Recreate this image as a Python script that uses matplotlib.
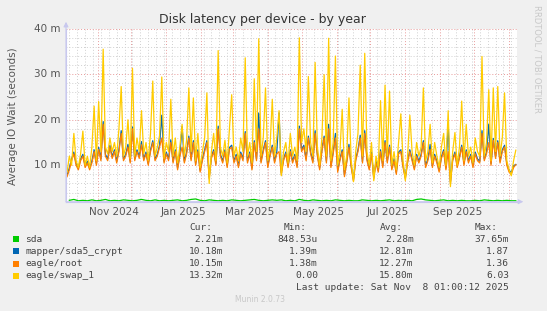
import matplotlib
matplotlib.use("Agg")
import matplotlib.pyplot as plt
import matplotlib.dates as mdates
import matplotlib.ticker as mticker
from matplotlib.patches import Rectangle
import pandas as pd

# daily-ish averages, values in milliseconds
swap_1 = [8.5, 12, 10, 17, 11, 9.5, 12.5, 17.5, 10, 12,
          9.5, 14, 23, 11, 24, 13, 35.5, 14, 12.5, 16,
          13, 15, 12, 18, 27.3, 12, 14, 20, 11.5, 31.3,
          12, 16, 13, 22, 12.5, 15, 11, 17, 28.5, 12,
          14, 16.5, 29.4, 11.5, 15, 13, 24.5, 12, 16, 10.5,
          14, 19, 12, 15.5, 27, 13, 24.8, 11, 17, 9.5,
          13, 16, 25.9, 6, 13, 17, 11, 35.2, 14, 12,
          15.5, 10.5, 18, 25.5, 12, 14, 11, 16, 13, 33.6,
          12, 15, 10.5, 29, 13, 37.8, 12, 16, 27, 11,
          14, 24.5, 12, 16, 22, 7.7, 13, 15, 10.5, 17,
          12, 14, 11, 38, 15, 18, 13, 29.5, 15, 12,
          32.6, 14, 10, 16, 29.9, 12, 37.9, 11, 15, 34,
          10, 13, 22.3, 9, 12, 24.8, 11, 6.4, 13, 17,
          32, 12, 34.6, 13, 10, 15, 6.6, 12, 9.5, 24.2,
          11, 27.6, 12, 26.3, 10, 13, 9, 15, 21.3, 11,
          6.6, 12, 21, 13, 10, 15, 12, 14, 27, 11,
          13, 19, 10.5, 15, 12, 9.5, 14, 17, 10, 22,
          5.3, 13, 17.2, 10, 14, 24.1, 11, 19, 12, 14,
          10.5, 16, 13, 12, 33.9, 12, 15, 26.6, 11, 27,
          13, 27.3, 12, 16, 25.9, 11, 9, 7.7, 11, 13.32]

root = [7.5, 9, 11, 12.5, 10, 9, 11, 12, 9.5, 10.5,
        9, 10.5, 13, 10, 13.5, 11, 19, 12, 11, 14,
        11.5, 13, 10.5, 13, 17, 11, 12, 14, 10.5, 18,
        11, 13, 11.5, 14.5, 11, 12.5, 10, 13, 15, 11,
        12, 14, 16, 10.5, 12.5, 11, 15, 10.5, 13, 9,
        12, 14, 10.5, 12.5, 16, 11, 15, 10, 13, 8.5,
        11, 13, 15, 7, 11.5, 13, 10, 18, 12, 10.5,
        13, 9.5, 13.5, 14, 10.5, 12, 9.5, 12.5, 11, 17,
        10.5, 12.5, 9, 15, 11, 18, 10.5, 13, 15, 9.5,
        12, 14, 10.5, 12.5, 13, 8, 11, 12.5, 9.5, 13,
        10.5, 12, 9.5, 18, 13, 14, 11, 16, 12.5, 10.5,
        17, 12, 9, 13, 16, 10.5, 18, 9.5, 12.5, 16,
        8.5, 11, 13, 7.5, 10.5, 14, 9.5, 6.5, 11, 13,
        16, 10.5, 17, 11, 9, 12.5, 7, 10.5, 8.5, 13,
        9.5, 15, 10.5, 14, 9, 11, 8, 12.5, 13, 9.5,
        7, 10.5, 13, 11, 9, 12, 10.5, 12, 15, 9.5,
        11, 13.5, 9.5, 12, 10.5, 8.5, 11.5, 13, 9, 13,
        6, 11, 12.5, 9.5, 11.5, 14, 10, 13, 10.5, 12,
        9.5, 12.5, 11, 10.5, 17, 11, 12.5, 15, 10, 15.5,
        11.5, 15, 10.5, 13, 14, 10, 8.5, 8, 9.5, 10.15]

sda5_crypt = [7.9, 9.4, 11.4, 12.9, 10.4, 9.4, 11.4, 12.4, 9.9, 10.9,
              9.4, 10.9, 13.4, 10.4, 13.9, 11.4, 19.6, 12.4, 11.4, 14.4,
              11.9, 13.4, 10.9, 13.4, 17.6, 11.4, 12.4, 14.6, 10.9, 18.4,
              11.4, 13.4, 11.9, 15.2, 11.4, 12.9, 10.4, 13.4, 15.4, 11.4,
              12.4, 14.4, 21, 10.9, 12.9, 11.4, 15.6, 10.9, 13.4, 9.4,
              12.4, 18.5, 10.9, 12.9, 16.4, 11.4, 15.4, 10.4, 13.4, 8.9,
              11.4, 13.4, 15.4, 7.4, 11.9, 13.4, 10.4, 18.6, 12.4, 10.9,
              13.4, 9.9, 13.9, 14.4, 10.9, 12.4, 9.9, 12.9, 11.4, 17.4,
              10.9, 12.9, 9.4, 15.4, 11.4, 21.5, 10.9, 13.4, 15.4, 9.9,
              12.4, 14.4, 10.9, 12.9, 21.5, 8.4, 11.4, 12.9, 9.9, 13.4,
              10.9, 12.4, 9.9, 18.6, 13.4, 14.4, 11.4, 16.4, 12.9, 10.9,
              17.6, 12.4, 9.4, 13.4, 16.4, 10.9, 19, 9.9, 12.9, 17,
              8.9, 11.4, 13.4, 7.9, 10.9, 14.6, 9.9, 6.9, 11.4, 13.4,
              16.6, 10.9, 17.6, 11.4, 9.4, 12.9, 7.4, 10.9, 8.9, 13.4,
              9.9, 15.4, 10.9, 14.4, 9.4, 11.4, 8.4, 12.9, 13.4, 9.9,
              7.4, 10.9, 13.4, 11.4, 9.4, 12.4, 10.9, 12.4, 15.4, 9.9,
              11.4, 14.6, 9.9, 12.4, 10.9, 8.9, 11.9, 13.4, 9.4, 19,
              6.4, 11.4, 12.9, 9.9, 11.9, 14.4, 10.4, 13.4, 10.9, 12.4,
              9.9, 12.9, 11.4, 10.9, 17.6, 11.4, 12.9, 19, 10.4, 15.9,
              11.9, 15.4, 10.9, 13.4, 14.4, 10.4, 8.9, 8.4, 9.9, 10.18]

sda = [2.3, 2.5, 2.2, 2.3, 2.2, 2.4, 2.2, 2.3, 2.5, 2.2,
       2.3, 2.2, 2.4, 2.3, 2.2, 2.3, 2.5, 2.3, 2.2, 2.4,
       2.2, 2.3, 2.2, 2.3, 2.4, 2.2, 2.3, 2.5, 2.6, 2.3,
       2.2, 2.4, 2.3, 2.2, 2.3, 2.2, 2.4, 2.3, 2.2, 2.3,
       2.4, 2.5, 2.3, 2.2, 2.3, 2.4, 2.3, 2.4, 2.2, 2.3,
       2.2, 2.5, 2.3, 2.2, 2.4, 2.3, 2.2, 2.3, 2.2, 2.4,
       2.3, 2.2, 2.3, 2.2, 2.2, 2.4, 2.3, 2.2, 2.3, 2.2,
       2.3, 2.4, 2.2, 2.3, 2.2, 2.3, 2.2, 2.5, 2.6, 2.4,
       2.3, 2.2, 2.3, 2.4, 2.2, 2.3, 2.2, 2.3, 2.2, 2.2,
       2.3, 2.2, 2.4, 2.3, 2.2, 2.3, 2.2, 2.3, 2.2, 2.21]

labels = ["sda", "mapper/sda5_crypt", "eagle/root", "eagle/swap_1"]
colors = ["#00cc00", "#0066b3", "#ff8000", "#ffcc00"]
cur = ["2.21m", "10.18m", "10.15m", "13.32m"]
mins = ["848.53u", "1.39m", "1.38m", "0.00"]
avgs = ["2.28m", "12.81m", "12.27m", "15.80m"]
maxs = ["37.65m", "1.87", "1.36", "6.03"]

days = pd.date_range(end="2025-11-07", periods=len(swap_1), freq="2D")
days_sda = pd.date_range(end="2025-11-07", periods=len(sda), freq="4D")
x0 = pd.Timestamp("2024-10-04 01:00")
x1 = pd.Timestamp("2025-11-08 01:00")

W, H = 547, 311
fig = plt.figure(figsize=(W / 100, H / 100), dpi=100, facecolor="#f0f0f0")
ax = fig.add_axes([66 / W, 1 - 201.7 / H, 451 / W, 173 / H], facecolor="white")

series = [sda, sda5_crypt, root, swap_1]
for vals, c in zip(series, colors):
    xs = days_sda if vals is sda else days
    ax.plot(xs, vals, color=c, lw=0.9)

ax.set_xlim(x0, x1)
ax.set_ylim(2, 40)

# grid like rrdtool
ax.yaxis.set_major_locator(mticker.MultipleLocator(10))
ax.yaxis.set_minor_locator(mticker.MultipleLocator(2))
ax.xaxis.set_major_locator(mdates.MonthLocator())
ax.xaxis.set_minor_locator(mdates.WeekdayLocator(byweekday=mdates.MO))
ax.grid(which="minor", color="#d0d0d0", ls=(0, (1, 2)), lw=0.7)
ax.grid(which="major", color="#e89a9a", ls=(0, (1, 2)), lw=0.7)
ax.set_axisbelow(True)
ax.tick_params(which="both", length=0, labelbottom=False, labelleft=False)

for s in ["top", "right"]:
    ax.spines[s].set_visible(False)
for s in ["left", "bottom"]:
    ax.spines[s].set_color("#c8c8ee")
    ax.spines[s].set_linewidth(0.8)
ax.annotate("", xy=(0, 1.04), xytext=(0, 0), xycoords="axes fraction",
            arrowprops=dict(arrowstyle="-|>", color="#c8c8ee", lw=0.8,
                            mutation_scale=7, shrinkA=0, shrinkB=0))
ax.annotate("", xy=(1.014, 0), xytext=(0, 0), xycoords="axes fraction",
            arrowprops=dict(arrowstyle="-|>", color="#c8c8ee", lw=0.8,
                            mutation_scale=7, shrinkA=0, shrinkB=0))

# y tick labels
for v in [10, 20, 30, 40]:
    ax.text(-0.012, v, "%d m" % v, transform=ax.get_yaxis_transform(),
            ha="right", va="center", fontsize=7.5, color="#555555")

# x labels sit in the middle of the month
for d, t in [("2024-11-16", "Nov 2024"), ("2025-01-16", "Jan 2025"),
             ("2025-03-16", "Mar 2025"), ("2025-05-16", "May 2025"),
             ("2025-07-16", "Jul 2025"), ("2025-09-16", "Sep 2025")]:
    ax.text(pd.Timestamp(d), -0.06, t, transform=ax.get_xaxis_transform(),
            ha="center", va="center", fontsize=7.5, color="#555555")

fig.text(262 / W, 1 - 19 / H, "Disk latency per device - by year",
         ha="center", va="center", fontsize=9, color="#333333")
fig.text(13 / W, 1 - 116 / H, "Average IO Wait (seconds)", rotation=90,
         ha="center", va="center", fontsize=7.5, color="#555555")
fig.text(537 / W, 1 - 5 / H, "RRDTOOL / TOBI OETIKER", rotation=270,
         ha="center", va="top", fontsize=6, color="#c8c8c8")

# legend table
mono = dict(family="DejaVu Sans Mono", fontsize=6.8, color="#444444")
cols = [223, 318, 413.7, 509]
for xc, h in zip(cols, ["Cur:", "Min:", "Avg:", "Max:"]):
    fig.text((xc - 11) / W, 1 - 228 / H, h, ha="right", va="center", **mono)
for k in range(4):
    y = 239.3 + 12.1 * k
    fig.add_artist(Rectangle((13 / W, 1 - (y + 3) / H), 6 / W, 6 / H,
                             transform=fig.transFigure, color=colors[k], lw=0))
    fig.text(25 / W, 1 - y / H, labels[k], ha="left", va="center", **mono)
    for xc, v in zip(cols, [cur[k], mins[k], avgs[k], maxs[k]]):
        fig.text(xc / W, 1 - y / H, v, ha="right", va="center", **mono)
fig.text(509 / W, 1 - 287.5 / H, "Last update: Sat Nov  8 01:00:12 2025",
         ha="right", va="center", **mono)
fig.text(260 / W, 1 - 300 / H, "Munin 2.0.73", ha="center", va="center",
         fontsize=5.5, color="#c8c8c8")

fig.savefig("out.png", dpi=100, facecolor=fig.get_facecolor())
